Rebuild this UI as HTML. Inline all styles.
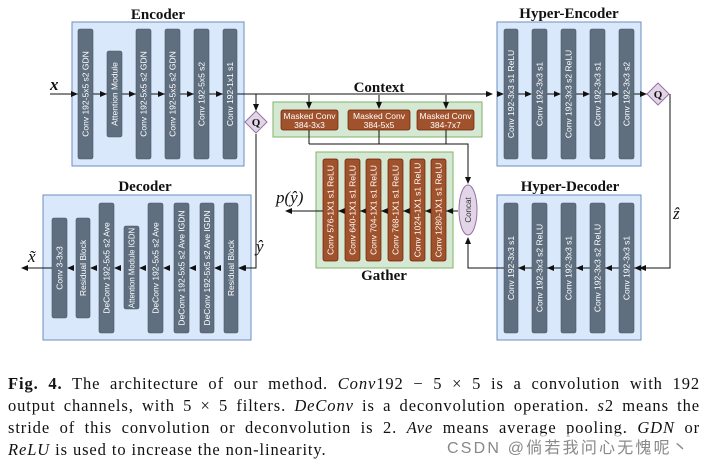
<!DOCTYPE html>
<html><head><meta charset="utf-8"><style>
body{margin:0;width:707px;height:465px;background:#fff;position:relative;overflow:hidden;font-family:"Liberation Serif",serif}
.cap{position:absolute;left:8px;width:692px;font-size:16.5px;letter-spacing:0.9px;line-height:22px;text-align:justify;text-align-last:justify;white-space:nowrap;color:#111}
.wm{position:absolute;left:447px;top:434px;font-family:"Liberation Sans","Noto Sans CJK SC",sans-serif;font-size:16px;letter-spacing:2.2px;color:#888;background:rgba(255,255,255,0.6)}
</style></head><body>
<svg width="707" height="350" style="position:absolute;left:0;top:0" font-family="Liberation Sans, sans-serif">
<defs><marker id="a" markerWidth="8" markerHeight="8" refX="6" refY="3" orient="auto" markerUnits="userSpaceOnUse"><path d="M0,0 L7,3 L0,6 z" fill="#111"/></marker></defs>
<g stroke="#6c8ebf" fill="#dae8fc" stroke-width="1">
<rect x="72" y="22" width="172" height="144"/>
<rect x="497" y="22" width="144" height="144"/>
<rect x="43" y="195" width="208" height="145"/>
<rect x="497" y="195" width="144" height="145"/>
</g>
<g stroke="#82b366" fill="#d5e8d4"><rect x="273" y="102" width="209" height="35"/><rect x="316" y="152" width="137" height="116"/></g>
<g font-family="Liberation Serif, serif" font-weight="bold" font-size="15" text-anchor="middle" fill="#111">
<text x="158" y="19">Encoder</text><text x="569" y="18">Hyper-Encoder</text><text x="379" y="92">Context</text>
<text x="145" y="191">Decoder</text><text x="570" y="191">Hyper-Decoder</text><text x="384" y="280">Gather</text></g>
<g stroke="#111" stroke-width="1" fill="none">
<path d="M50,94 H492" marker-end="url(#a)"/>
<path d="M256,94 V110" marker-end="url(#a)"/>
<path d="M256,134 V268 H240" marker-end="url(#a)"/>
<path d="M309,95 V108" marker-end="url(#a)"/><path d="M379,95 V108" marker-end="url(#a)"/><path d="M446,95 V108" marker-end="url(#a)"/>
<path d="M309,130 V144 M379,130 V144 M446,130 V144 M309,144 H468 V183" /><path d="M468,144 V183" marker-end="url(#a)"/>
<path d="M641,268 H468 V238" marker-end="url(#a)"/>
<path d="M458,211 H286" marker-end="url(#a)"/>
<path d="M52,268 H22" marker-end="url(#a)"/>
<path d="M670,94 V268 H640" marker-end="url(#a)"/>
</g>
<g fill="#111" stroke="none">
<path d="M78,94 l-7,-3 v6z M107,94 l-7,-3 v6z M136,94 l-7,-3 v6z M165,94 l-7,-3 v6z M194,94 l-7,-3 v6z M223,94 l-7,-3 v6z M504,94 l-7,-3 v6z M532,94 l-7,-3 v6z M561,94 l-7,-3 v6z M590,94 l-7,-3 v6z M619,94 l-7,-3 v6z M647,94 l-7,-3 v6z"/>
<path d="M238,268 l7,-3 v6z M214,268 l7,-3 v6z M189,268 l7,-3 v6z M163,268 l7,-3 v6z M139,268 l7,-3 v6z M114,268 l7,-3 v6z M90,268 l7,-3 v6z M67,268 l7,-3 v6z"/>
<path d="M634,268 l7,-3 v6z M605,268 l7,-3 v6z M576,268 l7,-3 v6z M547,268 l7,-3 v6z M518,268 l7,-3 v6z"/>
<path d="M446,211 l7,-3 v6z M425,211 l7,-3 v6z M403,211 l7,-3 v6z M381,211 l7,-3 v6z M360,211 l7,-3 v6z M338,211 l7,-3 v6z"/>
</g>
<g stroke="#111"><path d="M634,94 H647 M605,94 H612 M576,94 H583 M547,94 H554 M518,94 H525"/></g>
<g fill="#e1d5e7" stroke="#9673a6"><path d="M256,111 L267,122 L256,133 L245,122 z"/><path d="M658,83 L669,94 L658,105 L647,94 z"/><ellipse cx="468" cy="210" rx="9" ry="25"/></g>
<g font-family="Liberation Serif, serif" font-weight="bold" font-size="11" text-anchor="middle" fill="#111"><text x="256" y="126">Q</text><text x="658" y="98">Q</text></g>
<text transform="translate(471,210) rotate(-90)" font-size="8" text-anchor="middle" fill="#333">Concat</text>
<g fill="#5f6f80" stroke="#4a5866" stroke-width="0.6">
<rect x="78" y="29" width="15" height="130" rx="2"/><rect x="107" y="51" width="15" height="86" rx="2"/><rect x="136" y="29" width="15" height="130" rx="2"/><rect x="165" y="29" width="15" height="130" rx="2"/><rect x="194" y="29" width="15" height="130" rx="2"/><rect x="223" y="29" width="14" height="130" rx="2"/>
<rect x="504" y="29" width="14" height="130" rx="2"/><rect x="532" y="29" width="15" height="130" rx="2"/><rect x="561" y="29" width="15" height="130" rx="2"/><rect x="590" y="29" width="15" height="130" rx="2"/><rect x="619" y="29" width="15" height="130" rx="2"/>
<rect x="504" y="203" width="14" height="130" rx="2"/><rect x="532" y="203" width="15" height="130" rx="2"/><rect x="561" y="203" width="15" height="130" rx="2"/><rect x="590" y="203" width="15" height="130" rx="2"/><rect x="619" y="203" width="15" height="130" rx="2"/>
<rect x="52" y="218" width="15" height="100" rx="2"/><rect x="76" y="218" width="14" height="100" rx="2"/><rect x="99" y="203" width="15" height="130" rx="2"/><rect x="124" y="226" width="15" height="83" rx="2"/><rect x="148" y="203" width="15" height="130" rx="2"/><rect x="174" y="203" width="15" height="130" rx="2"/><rect x="200" y="203" width="14" height="130" rx="2"/><rect x="224" y="203" width="14" height="130" rx="2"/>
</g>
<g fill="#a0522d" stroke="#6d1f00" stroke-width="0.7">
<rect x="281" y="110" width="57" height="20" rx="2"/><rect x="348" y="110" width="62" height="20" rx="2"/><rect x="417" y="110" width="57" height="20" rx="2"/>
<rect x="323" y="159" width="15" height="102" rx="2"/><rect x="345" y="159" width="15" height="102" rx="2"/><rect x="366" y="159" width="15" height="102" rx="2"/><rect x="388" y="159" width="15" height="102" rx="2"/><rect x="410" y="159" width="15" height="102" rx="2"/><rect x="431" y="159" width="15" height="102" rx="2"/>
</g>
<g fill="#fff" font-size="8.5" text-anchor="middle">
<text x="309.5" y="119">Masked Conv</text><text x="309.5" y="128">384-3x3</text>
<text x="379" y="119">Masked Conv</text><text x="379" y="128">384-5x5</text>
<text x="445.5" y="119">Masked Conv</text><text x="445.5" y="128">384-7x7</text>
<text transform="translate(88.5,94) rotate(-90)">Conv 192-5x5 s2 GDN</text>
<text transform="translate(117.5,94) rotate(-90)">Attention Module</text>
<text transform="translate(146.5,94) rotate(-90)">Conv 192-5x5 s2 GDN</text>
<text transform="translate(175.5,94) rotate(-90)">Conv 192-5x5 s2 GDN</text>
<text transform="translate(204.5,94) rotate(-90)">Conv 192-5x5 s2</text>
<text transform="translate(233,94) rotate(-90)">Conv 192-1x1 s1</text>
<text transform="translate(514,94) rotate(-90)">Conv 192-3x3 s1 ReLU</text>
<text transform="translate(542.5,94) rotate(-90)">Conv 192-3x3 s1</text>
<text transform="translate(571.5,94) rotate(-90)">Conv 192-3x3 s2 ReLU</text>
<text transform="translate(600.5,94) rotate(-90)">Conv 192-3x3 s1</text>
<text transform="translate(629.5,94) rotate(-90)">Conv 192-3x3 s2</text>
<text transform="translate(514,268) rotate(-90)">Conv 192-3x3 s1</text>
<text transform="translate(542.5,268) rotate(-90)">Conv 192-3x3 s2 ReLU</text>
<text transform="translate(571.5,268) rotate(-90)">Conv 192-3x3 s1</text>
<text transform="translate(600.5,268) rotate(-90)">Conv 192-3x3 s2 ReLU</text>
<text transform="translate(629.5,268) rotate(-90)">Conv 192-3x3 s1</text>
<text transform="translate(62.5,268) rotate(-90)">Conv 3-3x3</text>
<text transform="translate(86,268) rotate(-90)">Residual Block</text>
<text transform="translate(109.5,268) rotate(-90)">DeConv 192-5x5 s2 Ave</text>
<text transform="translate(134.5,268) rotate(-90)" font-size="7.8">Attention Module IGDN</text>
<text transform="translate(158.5,268) rotate(-90)">DeConv 192-5x5 s2 Ave</text>
<text transform="translate(184.5,268) rotate(-90)">DeConv 192-5x5 s2 Ave IGDN</text>
<text transform="translate(210,268) rotate(-90)">DeConv 192-5x5 s2 Ave IGDN</text>
<text transform="translate(234,268) rotate(-90)">Residual Block</text>
<text transform="translate(333.5,210) rotate(-90)">Conv 576-1X1 s1 ReLU</text>
<text transform="translate(355.5,210) rotate(-90)">Conv 640-1X1 s1 ReLU</text>
<text transform="translate(376.5,210) rotate(-90)">Conv 704-1X1 s1 ReLU</text>
<text transform="translate(398.5,210) rotate(-90)">Conv 768-1X1 s1 ReLU</text>
<text transform="translate(420.5,210) rotate(-90)">Conv 1024-1X1 s1 ReLU</text>
<text transform="translate(441.5,210) rotate(-90)">Conv 1280-1X1 s1 ReLU</text>
</g>
<g font-family="Liberation Serif, serif" font-style="italic" font-size="17" fill="#111">
<text x="50" y="90" font-weight="bold">x</text>
<text x="276" y="203">p(ŷ)</text>
<text x="256" y="252">ŷ</text>
<text x="28" y="262">x̃</text>
<text x="673" y="219">ẑ</text>
</g>
</svg>
<div class="cap" style="top:373px"><b>Fig. 4.</b> The architecture of our method. <i>Conv</i>192 − 5 × 5 is a convolution with 192</div>
<div class="cap" style="top:395px">output channels, with 5 × 5 filters. <i>DeConv</i> is a deconvolution operation. <i>s</i>2 means the</div>
<div class="cap" style="top:417px">stride of this convolution or deconvolution is 2. <i>Ave</i> means average pooling. <i>GDN</i> or</div>
<div class="cap" style="top:439px;text-align-last:left"><i>ReLU</i> is used to increase the non-linearity.</div>
<div class="wm">CSDN @倘若我问心无愧呢丶</div>
</body></html>
